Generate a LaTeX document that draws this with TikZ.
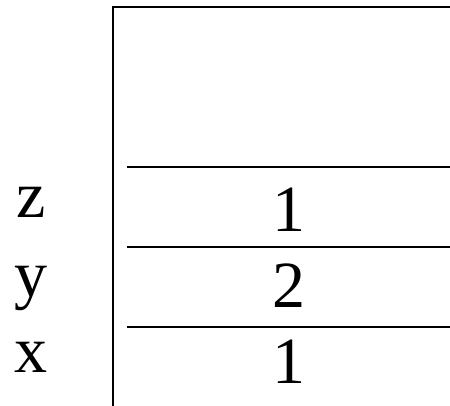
\documentclass[tikz,border=0pt]{standalone}
\usepackage{fontspec}
\setmainfont{Liberation Serif}
\usepackage{tikz}
\usetikzlibrary{positioning}

\begin{document}
\begin{tikzpicture}[
  x=1pt, y=-1pt,
  every node/.style={font=\fontsize{66}{70}\selectfont, inner sep=0pt},
  var/.style={anchor=base},
  cell/.style={anchor=base},
  rule/.style={line width=2pt}
]
\useasboundingbox (0,0) rectangle (450,406);

% frame of the stack
\coordinate (top) at (113,7);
\coordinate (bot) at (113,406);
\coordinate (topr) at (450,7);
\draw[rule] (bot) -- (top) -- (topr);

% slot separators
\foreach \yy/\nm in {167/a,247/b,327/c}{
  \coordinate (l\nm) at (127,\yy);
  \coordinate (r\nm) at (450,\yy);
  \draw[rule] (l\nm) -- (r\nm);
}

% variable names
\node[var] (vz) at (31,218) {z};
\node[var] (vy) at (31,297) {y};
\node[var] (vx) at (31,372) {x};

% slot contents
\node[cell] (cz) at (289,232) {1};
\node[cell] (cy) at (289,307) {2};
\node[cell] (cx) at (289,383) {1};
\end{tikzpicture}
\end{document}
